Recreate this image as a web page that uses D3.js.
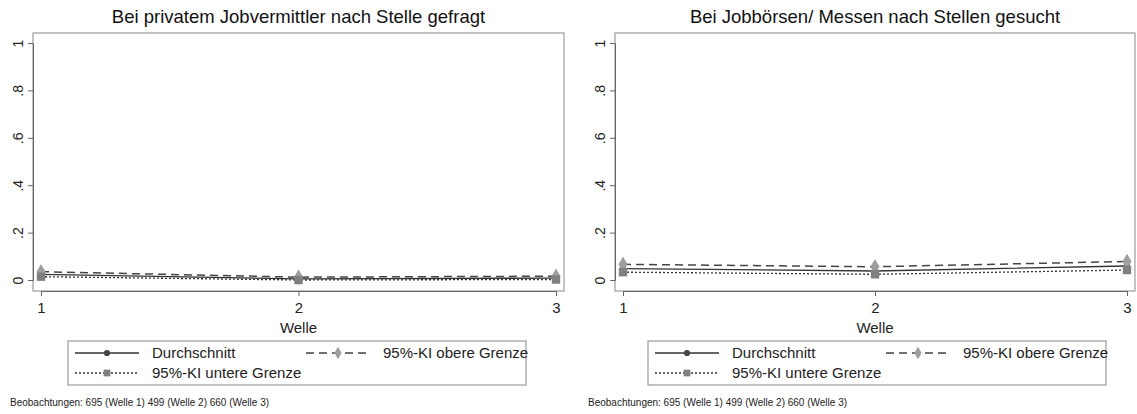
<!DOCTYPE html>
<html><head><meta charset="utf-8">
<script src="https://cdn.jsdelivr.net/npm/d3@7"></script>
<style>body{margin:0;background:#fff;} svg{display:block;font-family:"Liberation Sans",Arial,sans-serif;}</style>
</head><body>
<svg id="c" width="1137" height="414"></svg>
<script>
const waves = [1, 2, 3];
const yTicks = [0, 0.2, 0.4, 0.6, 0.8, 1];
const yTickLabels = ["0", ".2", ".4", ".6", ".8", "1"];
const titles = ["Bei privatem Jobvermittler nach Stelle gefragt", "Bei Jobbörsen/ Messen nach Stellen gesucht"];
const meanA = [0.024, 0.005, 0.008];
const upperA = [0.035, 0.012, 0.016];
const lowerA = [0.014, 0.0, 0.002];
const meanB = [0.048, 0.038, 0.059];
const upperB = [0.066, 0.056, 0.078];
const lowerB = [0.033, 0.024, 0.042];
const legendLabels = ["Durchschnitt", "95%-KI obere Grenze", "95%-KI untere Grenze"];
const xLabel = "Welle";
const footnote = "Beobachtungen: 695 (Welle 1) 499 (Welle 2) 660 (Welle 3)";

const svg = d3.select("#c");
const panels = [
  {ox: 0, title: titles[0], mean: meanA, upper: upperA, lower: lowerA, fx: 10},
  {ox: 582, title: titles[1], mean: meanB, upper: upperB, lower: lowerB, fx: 6}
];
const styles = {
  mean: {stroke: "#333", dash: null, w: 1.3, marker: "circle", mfill: "#444", msize: 30},
  upper: {stroke: "#444", dash: "8,5", w: 1.5, marker: "diamond", mfill: "#9e9e9e", msize: 70},
  lower: {stroke: "#333", dash: "2,2", w: 1.3, marker: "square", mfill: "#808080", msize: 70}
};
const symType = {circle: d3.symbolCircle, diamond: d3.symbolDiamond, square: d3.symbolSquare};

panels.forEach((p, i) => {
  const g = svg.append("g").attr("transform", `translate(${p.ox},0)`);
  const left = 33, right = i === 0 ? 564 : 553, top = 33, bottom = 291;
  const x = d3.scaleLinear().domain([1, 3]).range([left + 8, right - 8]);
  const y = d3.scaleLinear().domain([0, 1]).range([280, 43]);
  g.append("rect").attr("x", left).attr("y", top).attr("width", right - left).attr("height", bottom - top)
    .attr("fill", "none").attr("stroke", "#888").attr("stroke-width", 1);
  const ya = g.append("g").attr("transform", `translate(${left},0)`)
    .call(d3.axisLeft(y).tickValues(yTicks).tickFormat((d, j) => yTickLabels[j]).tickSize(5).tickPadding(4));
  ya.select(".domain").attr("stroke", "#666");
  ya.selectAll(".tick line").attr("stroke", "#666");
  ya.selectAll(".tick text").attr("font-size", 14).attr("fill", "#222")
    .attr("font-family", "Liberation Sans, Arial, sans-serif")
    .attr("transform", "rotate(-90)").attr("x", 0).attr("y", -15).attr("dy", "0.35em").attr("text-anchor", "middle");
  const xa = g.append("g").attr("transform", `translate(0,${bottom})`)
    .call(d3.axisBottom(x).tickValues(waves).tickFormat(d3.format("d")).tickSize(5).tickPadding(6));
  xa.select(".domain").attr("stroke", "#666");
  xa.selectAll(".tick line").attr("stroke", "#666");
  xa.selectAll(".tick text").attr("font-size", 15).attr("fill", "#222")
    .attr("font-family", "Liberation Sans, Arial, sans-serif");
  g.append("text").attr("x", (left + right) / 2).attr("y", 333).attr("text-anchor", "middle")
    .attr("font-size", 15).attr("fill", "#222").text(xLabel);
  g.append("text").attr("x", (left + right) / 2).attr("y", 23).attr("text-anchor", "middle")
    .attr("font-size", 18.5).attr("fill", "#111").text(p.title);
  ["mean", "upper", "lower"].forEach(k => {
    const s = styles[k];
    const line = d3.line().x((d, j) => x(waves[j])).y(d => y(d));
    g.append("path").datum(p[k]).attr("d", line).attr("fill", "none")
      .attr("stroke", s.stroke).attr("stroke-width", s.w).attr("stroke-dasharray", s.dash);
  });
  ["mean", "upper", "lower"].forEach(k => {
    const s = styles[k];
    g.selectAll(null).data(p[k]).enter().append("path")
      .attr("transform", (d, j) => `translate(${x(waves[j])},${y(d)})`)
      .attr("d", d3.symbol().type(symType[s.marker]).size(s.msize)).attr("fill", s.mfill);
  });
  const lx = i === 0 ? 68 : 66, lw = 458, ly = 341, lh = 44;
  const lg = g.append("g");
  lg.append("rect").attr("x", lx).attr("y", ly).attr("width", lw).attr("height", lh)
    .attr("fill", "#fff").attr("stroke", "#888");
  const items = [
    {k: "mean", x0: lx + 7, y0: ly + 12, label: legendLabels[0]},
    {k: "upper", x0: lx + 238, y0: ly + 12, label: legendLabels[1]},
    {k: "lower", x0: lx + 7, y0: ly + 32, label: legendLabels[2]}
  ];
  items.forEach(it => {
    const s = styles[it.k];
    lg.append("line").attr("x1", it.x0).attr("x2", it.x0 + 64).attr("y1", it.y0).attr("y2", it.y0)
      .attr("stroke", s.stroke).attr("stroke-width", s.w).attr("stroke-dasharray", s.dash);
    lg.append("path").attr("transform", `translate(${it.x0 + 32},${it.y0})`)
      .attr("d", d3.symbol().type(symType[s.marker]).size(it.k === "mean" ? 30 : 45)).attr("fill", s.mfill);
    lg.append("text").attr("x", it.x0 + 77).attr("y", it.y0).attr("dy", "0.35em")
      .attr("font-size", 15).attr("fill", "#222").text(it.label);
  });
  g.append("text").attr("x", p.fx).attr("y", 406).attr("font-size", 10).attr("fill", "#222").text(footnote);
});
</script>
</body></html>
